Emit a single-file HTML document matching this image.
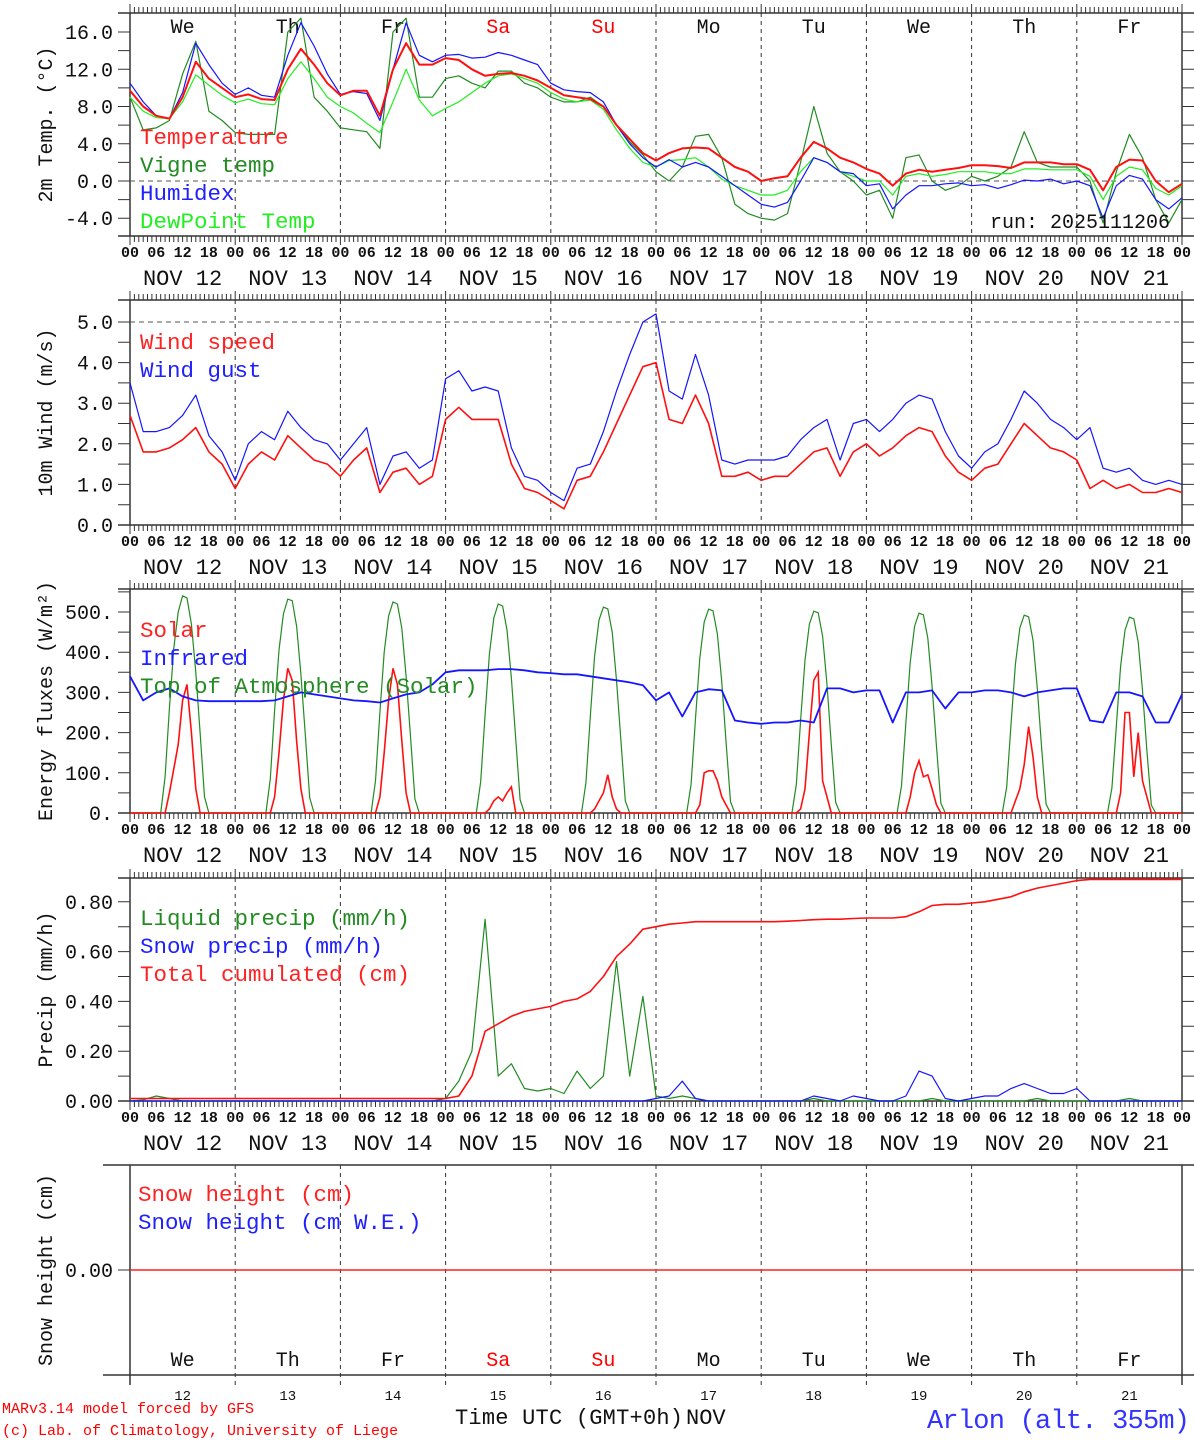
<!DOCTYPE html>
<html><head><meta charset="utf-8"><style>
html,body{margin:0;padding:0;background:#fff;}
svg{display:block;font-family:"Liberation Mono","DejaVu Sans Mono",monospace;}
</style></head><body>
<svg id="chart" width="1194" height="1440" viewBox="0 0 1194 1440" xmlns="http://www.w3.org/2000/svg"></svg>
<script>
// ---- data (3-hourly, Nov 12 00h .. Nov 22 00h) ----
const dayLabels = ["We","Th","Fr","Sa","Su","Mo","Tu","We","Th","Fr"];
const dateLabels = ["12","13","14","15","16","17","18","19","20","21"];
const hourLabels = ["00","06","12","18"];
const temperature = [9.7,8,7,6.7,9,12.8,11,10, 9,9.3,8.8,8.7,12,14.2,12.5,10.5, 9.2,9.7,9.7,7,12,14.8,12.5,12.5, 13.2,13,12,11.3,11.5,11.6,11.3,10.8, 10,9.2,9,8.8,8,6,4.5,3, 2.2,3,3.5,3.6,3.5,2.5,1.5,1, 0,0.3,0.5,2.5,4.2,3.5,2.5,2, 1.3,0.8,-0.5,0.8,1.2,1,1.2,1.4, 1.7,1.7,1.6,1.4,2,2,2,1.8, 1.8,1.2,-1,1.5,2.3,2.2,0,-1.2, -0.3];
const vigneTemp = [9,5.5,5.7,6.5,11.5,15,7.5,6.5, 5.2,5,5,5,16,17.5,9,7.5, 5.7,5.5,5.3,3.5,16,17.5,9,9, 11,11.3,10.5,10,11.8,11.8,10.5,10, 9,8.5,8.5,9,8,6,4.2,2.8, 1,0,1.5,4.8,5,2.5,-2.5,-3.5, -4,-4.2,-3.5,2,8,3,1,0, -1.5,-1,-4,2.5,2.8,0,-1,-0.5, 0.5,0,0.5,1.5,5.3,2,1.5,1.5, 1.5,0,-4.5,1,5,2.5,-2,-4.5, -2];
const humidex = [10.5,8.5,7,6.7,9.5,14.8,12.5,10.5, 9.3,10,9.2,9,13.5,17,14.5,11.5, 9.3,9.6,9.4,6.5,12,17,13.5,12.8, 13.5,13.6,13.2,13.3,13.8,13.5,13,12.5, 10.5,9.8,9.6,9.5,8.5,6,4,2.5, 1.5,2.3,1.5,2,1.5,0.5,-0.5,-1.5, -2.5,-2.8,-2.3,0,2.5,2,1,0.8, -0.5,-0.3,-3,-1.5,-0.5,-0.5,-0.3,-0.2, -0.5,-0.4,-0.8,-0.4,0.1,0,0.2,-0.3, 0,-0.5,-4,-0.5,0.6,0.2,-2,-3, -1.8];
const dewPoint = [9,7.5,6.8,6.7,8.5,11.4,10.3,9.2, 8.4,8.8,8.3,8.2,11,12.8,11,9, 8,7.3,6.2,5.2,8.5,12,8.7,7, 7.8,8.5,9.5,10.5,11.3,11.5,11,10.5, 9.5,8.8,8.5,8.7,7.7,5.5,3.5,2, 1.5,2.2,2.3,2.5,1.5,0.2,-0.5,-1, -1.5,-1.5,-1,1,2.5,2,1,0.5, 0,0,-1.5,0.5,0.8,0.5,0.7,1, 1,1,0.8,0.8,1.3,1.3,1.2,1.2, 1.2,0.5,-2,0.5,1.5,1.2,-0.8,-1.5, -0.5];
const windSpeed = [2.7,1.8,1.8,1.9,2.1,2.4,1.8,1.5, 0.9,1.5,1.8,1.6,2.2,1.9,1.6,1.5, 1.2,1.6,1.9,0.8,1.3,1.4,1.0,1.2, 2.6,2.9,2.6,2.6,2.6,1.5,0.9,0.8, 0.6,0.4,1.1,1.2,1.8,2.5,3.2,3.9, 4.0,2.6,2.5,3.2,2.5,1.2,1.2,1.3, 1.1,1.2,1.2,1.5,1.8,1.9,1.2,1.8, 2.0,1.7,1.9,2.2,2.4,2.3,1.7,1.3, 1.1,1.4,1.5,2.0,2.5,2.2,1.9,1.8, 1.6,0.9,1.1,0.9,1.0,0.8,0.8,0.9, 0.8];
const windGust = [3.5,2.3,2.3,2.4,2.7,3.2,2.2,1.8, 1.1,2.0,2.3,2.1,2.8,2.4,2.1,2.0, 1.6,2.0,2.4,1.0,1.7,1.8,1.4,1.6, 3.6,3.8,3.3,3.4,3.3,1.9,1.2,1.1, 0.8,0.6,1.4,1.5,2.3,3.3,4.2,5.0, 5.2,3.3,3.1,4.2,3.2,1.6,1.5,1.6, 1.6,1.6,1.7,2.1,2.4,2.6,1.6,2.5, 2.6,2.3,2.6,3.0,3.2,3.1,2.3,1.7, 1.4,1.8,2.0,2.6,3.3,3.0,2.6,2.4, 2.1,2.4,1.4,1.3,1.4,1.1,1.0,1.1, 1.0];
const infrared = [340,280,300,310,290,280,278,278, 278,278,278,280,290,300,295,290, 285,280,278,275,285,295,300,320, 350,355,355,355,358,358,355,350, 348,345,345,340,335,330,325,318, 280,300,240,300,308,305,230,225, 222,225,225,230,225,310,310,300, 305,305,225,300,300,305,260,300, 300,305,305,300,290,300,305,310, 310,230,225,300,300,290,225,225, 295];
// daylight hourly values, hours 06..18, per day
const toaDaily = [
 [0,0,90,260,410,500,540,535,470,350,200,40,0],
 [0,0,85,255,405,495,532,528,465,345,195,38,0],
 [0,0,80,250,400,490,525,520,460,340,190,35,0],
 [0,0,78,245,395,485,520,515,455,335,185,33,0],
 [0,0,75,240,390,480,512,508,450,330,180,30,0],
 [0,0,72,235,385,475,507,503,445,325,175,28,0],
 [0,0,70,230,380,470,502,498,440,320,170,26,0],
 [0,0,68,225,375,465,497,493,435,315,165,24,0],
 [0,0,65,220,370,460,492,488,430,310,160,22,0],
 [0,0,62,215,365,455,487,483,425,305,155,20,0]];
const solarDaily = [
 [0,0,0,50,110,170,280,320,200,60,0,0,0],
 [0,0,0,40,150,280,360,330,180,60,0,0,0],
 [0,0,0,40,150,280,360,320,180,50,0,0,0],
 [0,0,0,0,10,30,40,30,50,65,0,0,0],
 [0,0,0,0,10,30,50,95,40,10,0,0,0],
 [0,0,0,0,20,100,105,105,80,40,20,0,0],
 [0,0,0,10,60,200,330,350,80,40,0,0,0],
 [0,0,0,0,40,100,130,90,95,60,20,0,0],
 [0,0,0,0,30,60,120,215,140,40,0,0,0],
 [0,0,0,0,50,250,250,90,200,80,40,0,0]];
const liquidPrecip = [0,0.005,0.02,0.01,0,0,0,0, 0,0,0,0,0,0,0,0, 0,0,0,0,0,0,0,0, 0.01,0.08,0.2,0.73,0.1,0.15,0.05,0.04, 0.05,0.03,0.12,0.05,0.1,0.56,0.1,0.42, 0.02,0.01,0.02,0.01,0,0,0,0, 0,0,0,0,0.01,0,0,0, 0,0,0,0,0,0.01,0,0, 0,0,0,0,0,0.01,0,0, 0,0,0,0,0.01,0,0,0, 0];
const snowPrecip = [0,0,0,0,0,0,0,0, 0,0,0,0,0,0,0,0, 0,0,0,0,0,0,0,0, 0,0,0,0,0,0,0,0, 0,0,0,0,0,0,0,0, 0.01,0.02,0.08,0.01,0,0,0,0, 0,0,0,0,0.02,0.01,0,0.02, 0.01,0,0,0.02,0.12,0.1,0.01,0, 0.01,0.02,0.02,0.05,0.07,0.05,0.03,0.03, 0.05,0,0,0,0,0,0,0, 0];
const totalCum = [0.01,0.01,0.01,0.01,0.01,0.01,0.01,0.01, 0.01,0.01,0.01,0.01,0.01,0.01,0.01,0.01, 0.01,0.01,0.01,0.01,0.01,0.01,0.01,0.01, 0.01,0.02,0.1,0.28,0.31,0.34,0.36,0.37, 0.38,0.4,0.41,0.44,0.5,0.58,0.63,0.69, 0.70,0.71,0.715,0.72,0.72,0.72,0.72,0.72, 0.72,0.72,0.722,0.725,0.728,0.73,0.73,0.733, 0.735,0.735,0.735,0.74,0.76,0.785,0.79,0.79, 0.795,0.80,0.81,0.82,0.84,0.855,0.865,0.875, 0.885,0.89,0.89,0.89,0.89,0.89,0.89,0.89, 0.89];
const snowHeight = [0,0];

// ---- drawing ----
const svg = document.getElementById('chart');
const NS = 'http://www.w3.org/2000/svg';
const X0 = 130, X1 = 1182, HOURS = 240;
function xs(h){ return X0 + h*(X1-X0)/HOURS; }
function el(tag, attrs, parent){ const e=document.createElementNS(NS,tag); for(const k in attrs) e.setAttribute(k,attrs[k]); (parent||svg).appendChild(e); return e; }
function txt(s, x, y, attrs, name, parent){ const t=el('text',Object.assign({x:x,y:y},attrs),parent); t.textContent=s;
 
 
 return t; }

const panels = [
 {id:'temp', top:13, bot:236, y0:181, k:9.31, ticks:[-4,0,4,8,12,16], minor:2, fmt:v=>v.toFixed(1), title:'2m Temp. (\u00B0C)', hz:[0]},
 {id:'wind', top:300, bot:525, y0:525, k:40.6, ticks:[0,1,2,3,4,5], minor:0.5, fmt:v=>v.toFixed(1), title:'10m Wind (m/s)', hz:[5]},
 {id:'energy', top:589, bot:813, y0:813, k:0.402, ticks:[0,100,200,300,400,500], minor:50, fmt:v=>v+'.', title:'Energy fluxes (W/m\u00B2)', hz:[]},
 {id:'precip', top:878, bot:1101, y0:1101, k:249, ticks:[0,0.2,0.4,0.6,0.8], minor:0.1, fmt:v=>v.toFixed(2), title:'Precip (mm/h)', hz:[]},
 {id:'snow', top:1165, bot:1375, y0:1270, k:200, ticks:[0], minor:0, fmt:v=>v.toFixed(2), title:'Snow height (cm)', hz:[]}
];

panels.forEach((p,pi)=>{
 const g = el('g',{});
 
 
 p.g = g;
 p.y = v => p.y0 - v*p.k;
 const last = pi===4;
 el('line',{x1:last?103:118,y1:p.top,x2:1194,y2:p.top,stroke:'#333','stroke-width':1.5},g);
 el('line',{x1:last?103:118,y1:p.bot,x2:1194,y2:p.bot,stroke:'#333','stroke-width':1.5},g);
 el('line',{x1:X0,y1:p.top,x2:X0,y2:p.bot+(last?10:0),stroke:'#333','stroke-width':1.5},g);
 el('line',{x1:X1,y1:p.top,x2:X1,y2:p.bot+(last?10:0),stroke:'#333','stroke-width':1.5},g);
 for(let d=1; d<10; d++){
   el('line',{x1:xs(d*24),y1:p.top,x2:xs(d*24),y2:p.bot+(last?10:0),stroke:'#333','stroke-width':1,'stroke-dasharray':'4,4'},g);
 }
 if(!last){
   let dt='';
   for(let h=0; h<=HOURS; h++){
     const x=xs(h).toFixed(1); const L = (h%24===0)?9:6;
     dt += `M${x} ${p.top}v-${L}M${x} ${p.bot}v${L}`;
   }
   el('path',{d:dt,stroke:'#333','stroke-width':1,fill:'none'},g);
   for(let d=0; d<=10; d++){
     for(let j=0;j<4;j++){
       if(d===10 && j>0) break;
       txt(hourLabels[j], xs(d*24+j*6), p.bot+21, {'font-size':15,'font-weight':'bold','text-anchor':'middle',fill:'#111'}, 'hour-tick-label', g);
     }
   }
   for(let d=0; d<10; d++) txt('NOV '+dateLabels[d], xs(d*24+12), p.bot+49, {'font-size':22,'text-anchor':'middle',fill:'#111','xml:space':'preserve'}, 'date-label', g);
 }
 let yd='';
 p.ticks.forEach(v=>{ const y=p.y(v); yd+=`M118 ${y}h12M${X1} ${y}h12`; txt(p.fmt(v), 113, y+7, {'font-size':20,'text-anchor':'end',fill:'#111'}, 'y-tick-label', g); });
 if(p.minor){ const lo=p.ticks[0], hi=p.ticks[p.ticks.length-1]; for(let v=lo+p.minor; v<hi+p.minor*1.5; v+=2*p.minor){ const y=p.y(v); if(y>p.top+2) yd+=`M118 ${y}h12M${X1} ${y}h12`; } }
 el('path',{d:yd,stroke:'#333','stroke-width':1},g);
 p.hz.forEach(v=> el('line',{x1:X0,y1:p.y(v),x2:X1,y2:p.y(v),stroke:'#555','stroke-width':1,'stroke-dasharray':'5,4'},g));
 const cy=(p.top+p.bot)/2;
 txt(p.title, 0, 0, {'font-size':20,'text-anchor':'middle',fill:'#111',transform:`translate(52 ${cy}) rotate(-90)`}, 'y-axis-title', g);
});

function series(p, vals, color, w, name){
 const pts = vals.map((v,i)=> xs(i*3).toFixed(1)+','+p.y(v).toFixed(1)).join(' ');
 const pl = el('polyline',{points:pts,fill:'none',stroke:color,'stroke-width':w,'stroke-linejoin':'round'},p.g);
 
 
}
function dailySeries(p, days, color, w, name){
 const pts=[];
 pts.push(xs(0)+','+p.y(0));
 days.forEach((arr,d)=> arr.forEach((v,j)=> pts.push(xs(d*24+6+j).toFixed(1)+','+p.y(v).toFixed(1))));
 pts.push(xs(HOURS)+','+p.y(0));
 const pl = el('polyline',{points:pts.join(' '),fill:'none',stroke:color,'stroke-width':w},p.g);
 
 
}
const [P1,P2,P3,P4,P5] = panels;
const LF = {'font-size':22.5,'xml:space':'preserve'};
dayLabels.forEach((s,d)=> txt(s, xs(d*24+12), 33, {'font-size':20,'text-anchor':'middle',fill:(d===3||d===4)?'#f00':'#111'}, 'weekday-label', P1.g));
series(P1, vigneTemp, '#228b22', 1.2, 'vigne-temp-line');
series(P1, dewPoint, '#22ee22', 1.2, 'dewpoint-line');
series(P1, humidex, '#1515ff', 1.2, 'humidex-line');
series(P1, temperature, '#ff1010', 2, 'temperature-line');
[['Temperature','#f22'],['Vigne temp','#228b22'],['Humidex','#2020ff'],['DewPoint Temp','#22ee22']].forEach((l,i)=>
 txt(l[0],140,144+i*28,Object.assign({fill:l[1]},LF),'legend-entry',P1.g));
txt('run: 2025111206',1170,228,{'font-size':20,'text-anchor':'end',fill:'#111'},'run-label',P1.g);

series(P2, windGust, '#1515ff', 1.2, 'wind-gust-line');
series(P2, windSpeed, '#ff1010', 1.6, 'wind-speed-line');
[['Wind speed','#f22'],['Wind gust','#2020ff']].forEach((l,i)=>
 txt(l[0],140,349+i*28,Object.assign({fill:l[1]},LF),'legend-entry',P2.g));

dailySeries(P3, toaDaily, '#228b22', 1.2, 'toa-solar-line');
dailySeries(P3, solarDaily, '#ff1010', 1.6, 'solar-line');
series(P3, infrared, '#1515ff', 1.8, 'infrared-line');
[['Solar','#f22'],['Infrared','#2020ff'],['Top of Atmosphere (Solar)','#228b22']].forEach((l,i)=>
 txt(l[0],140,637+i*28,Object.assign({fill:l[1]},LF),'legend-entry',P3.g));

series(P4, liquidPrecip, '#228b22', 1.2, 'liquid-precip-line');
series(P4, snowPrecip, '#1515ff', 1.2, 'snow-precip-line');
series(P4, totalCum, '#ff1010', 1.6, 'total-cumulated-line');
[['Liquid precip (mm/h)','#228b22'],['Snow precip (mm/h)','#2020ff'],['Total cumulated (cm)','#f22']].forEach((l,i)=>
 txt(l[0],140,925+i*28,Object.assign({fill:l[1]},LF),'legend-entry',P4.g));

const sh = el('polyline',{points:snowHeight.map((v,i)=>xs(i*HOURS)+','+P5.y(v)).join(' '),fill:'none',stroke:'#ff2020','stroke-width':1.5},P5.g);


[['Snow height (cm)','#f22'],['Snow height (cm W.E.)','#2020ff']].forEach((l,i)=>
 txt(l[0],138,1201+i*28,Object.assign({fill:l[1]},LF),'legend-entry',P5.g));
dayLabels.forEach((s,d)=> txt(s, xs(d*24+12), 1366, {'font-size':20,'text-anchor':'middle',fill:(d===3||d===4)?'#f00':'#111'}, 'weekday-label', P5.g));
dateLabels.forEach((s,d)=> txt(s, xs(d*24+12), 1400, {'font-size':14,'text-anchor':'middle',fill:'#111'}, 'date-number', P5.g));
txt('Time UTC (GMT+0h)',455,1424,{'font-size':22,fill:'#111',textLength:228},'x-axis-title');
txt('NOV',686,1424,{'font-size':22,fill:'#111'},'month-label');
txt('MARv3.14 model forced by GFS',2,1413,{'font-size':15,fill:'#f00'},'credit-model');
txt('(c) Lab. of Climatology, University of Liege',2,1435,{'font-size':15,fill:'#f00'},'credit-lab');
txt('Arlon (alt. 355m)',1190,1428,{'font-size':27,'text-anchor':'end',fill:'#3333ff',textLength:263},'station-title');
</script>
</body></html>
